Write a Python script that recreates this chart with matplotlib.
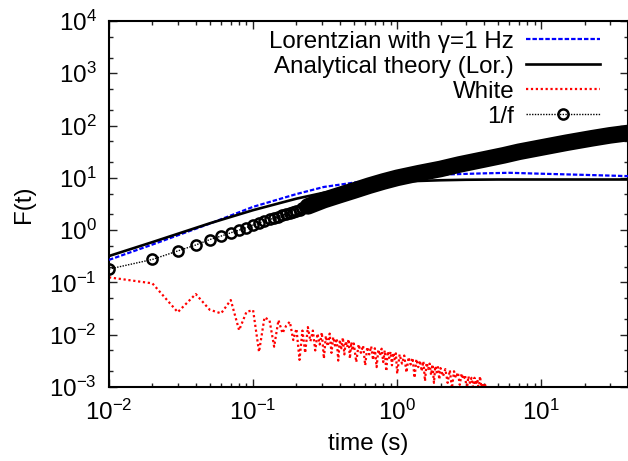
import numpy as np
import matplotlib
matplotlib.use('Agg')
import matplotlib.pyplot as plt
from matplotlib.ticker import LogLocator, NullFormatter

plt.rcParams['font.family'] = ['Liberation Sans', 'DejaVu Sans']
plt.rcParams['mathtext.fontset'] = 'custom'
plt.rcParams['mathtext.rm'] = 'Liberation Sans'
plt.rcParams['mathtext.it'] = 'Liberation Sans:italic'
plt.rcParams['mathtext.default'] = 'regular'

# ---------------- data ----------------
lor_t = [0.01, 0.02, 0.05, 0.1, 0.2, 0.31, 0.5, 0.64, 1.0, 1.42, 2.4, 4.0, 6.0, 10, 20, 40]
lor_F = [0.27, 0.53, 1.33, 2.79, 4.9, 6.7, 8.1, 9.0, 10.0, 11.3, 11.7, 12.2, 12.5, 12.0, 11.4, 10.8]

theory_t = [0.01, 0.02, 0.05, 0.1, 0.2, 0.31, 0.5, 0.64, 1.0, 1.27, 2.0, 3.0, 5.0, 10, 40]
theory_F = [0.32, 0.59, 1.35, 2.41, 4.0, 5.2, 6.5, 7.2, 8.2, 8.65, 9.0, 9.2, 9.3, 9.3, 9.3]

white_t = [0.01, 0.02, 0.03, 0.04, 0.05, 0.06, 0.07, 0.08, 0.09, 0.10,
           0.11, 0.12, 0.13, 0.14, 0.15, 0.16, 0.17, 0.18, 0.19, 0.20,
           0.21, 0.22, 0.23, 0.24, 0.25, 0.26, 0.27, 0.28, 0.29, 0.30,
           0.31, 0.32, 0.33, 0.34, 0.35, 0.36, 0.37, 0.38, 0.39, 0.40,
           0.41, 0.42, 0.43, 0.44, 0.45, 0.46, 0.47, 0.48, 0.49, 0.50,
           0.52, 0.54, 0.56, 0.58, 0.60, 0.62, 0.64, 0.66, 0.68, 0.70,
           0.72, 0.74, 0.76, 0.78, 0.80, 0.82, 0.84, 0.86, 0.88, 0.90,
           0.92, 0.94, 0.96, 0.98, 1.00,
           1.04, 1.08, 1.12, 1.16, 1.20, 1.24, 1.28, 1.32, 1.36, 1.40,
           1.44, 1.48, 1.52, 1.56, 1.60, 1.64, 1.68, 1.72, 1.76, 1.80,
           1.84, 1.88, 1.92, 1.96, 2.00,
           2.08, 2.16, 2.24, 2.32, 2.40, 2.48, 2.56, 2.64, 2.72, 2.80,
           2.88, 2.96, 3.04, 3.12, 3.20, 3.28, 3.36, 3.44, 3.52, 3.60,
           3.68, 3.76, 3.84, 3.92, 4.00, 4.08, 4.16, 4.24]
white_F = [0.125, 0.096, 0.027, 0.060, 0.030, 0.0256, 0.046, 0.0122, 0.0274, 0.0295,
           0.0047, 0.0214, 0.019, 0.0059, 0.019, 0.0107, 0.015, 0.0177, 0.0079, 0.013,
           0.0033, 0.012, 0.0045, 0.014, 0.0075, 0.012, 0.005, 0.0105, 0.0065, 0.011,
           0.0035, 0.0095, 0.006, 0.0105, 0.0045, 0.009, 0.0062, 0.0085, 0.0032, 0.008,
           0.0055, 0.0088, 0.0042, 0.0075, 0.0058, 0.0082, 0.0035, 0.0072, 0.005, 0.0068,
           0.0030, 0.0065, 0.0045, 0.0062, 0.0026, 0.0058, 0.0042, 0.0060, 0.0033, 0.0055,
           0.0024, 0.0052, 0.0040, 0.0054, 0.0030, 0.0050, 0.0020, 0.0048, 0.0036, 0.0047,
           0.0026, 0.0045, 0.0034, 0.0044, 0.0018,
           0.0042, 0.0028, 0.0040, 0.0019, 0.0037, 0.0027, 0.0036, 0.0015, 0.0034, 0.0024,
           0.0032, 0.0020, 0.0031, 0.0013, 0.0029, 0.0022, 0.0028, 0.0017, 0.0027, 0.0012,
           0.0025, 0.0019, 0.0024, 0.0014, 0.0023,
           0.0016, 0.0022, 0.0012, 0.0021, 0.00095, 0.0020, 0.0015, 0.0019, 0.0011, 0.0018,
           0.0014, 0.0017, 0.00085, 0.0016, 0.0012, 0.0015, 0.0010, 0.0015, 0.0011, 0.0014,
           0.0009, 0.0016, 0.0010, 0.0012, 0.0009, 0.0011, 0.0008, 0.0007]

onef_t = [0.01, 0.02, 0.03, 0.04, 0.05, 0.06, 0.07, 0.08, 0.09, 0.10,
          0.11, 0.12, 0.13, 0.14, 0.15, 0.16, 0.17, 0.18, 0.19, 0.20,
          0.21, 0.22, 0.23, 0.24, 0.25]
onef_F = [0.18, 0.275, 0.40, 0.52, 0.66, 0.77, 0.89, 1.0, 1.12, 1.25,
          1.37, 1.48, 1.6, 1.7, 1.82, 1.93, 2.04, 2.15, 2.26, 2.37,
          2.48, 2.6, 2.72, 2.85, 3.0]
# dense part of the 1/f series (markers merge into a band)
onef_band_t = [0.24, 0.31, 0.4, 0.5, 0.64, 0.8, 1.0, 1.42, 2.0, 2.7, 4.0, 5.5, 7.0,
               10, 15, 22.4, 30, 40]
onef_band_F = [2.85, 3.75, 4.7, 5.7, 7.1, 8.5, 10.0, 12.3, 14.8, 18.0, 22.5, 27, 31.5,
               38, 47, 57, 65, 72]

labels = ['Lorentzian with γ=1 Hz', 'Analytical theory (Lor.)', 'White', '1/f']

# ---------------- figure ----------------
W, H = 628, 461
fig = plt.figure(figsize=(W / 100, H / 100), dpi=100)
ax = fig.add_axes([109 / W, (H - 387) / H, 519 / W, 366 / H])

FS = 17.4
ax.plot(lor_t, lor_F, color='#0000ff', lw=1.6, linestyle=(0, (2, 0.9)), label=labels[0], zorder=3)
ax.plot(theory_t, theory_F, color='black', lw=1.9, label=labels[1], zorder=3)
ax.plot(white_t, white_F, color='#ff0000', lw=1.6, linestyle=(0, (1, 1.2)), label=labels[2], zorder=2)
ax.plot(onef_band_t, onef_band_F, color='black', lw=12, solid_capstyle='round', zorder=4)
ax.plot(onef_t, onef_F, color='black', lw=1.0, linestyle=(0, (1, 1)), marker='o',
        markersize=7.3, markerfacecolor='none', markeredgewidth=1.8, markeredgecolor='black',
        label=labels[3], zorder=5)

ax.set_xscale('log')
ax.set_yscale('log')
ax.set_xlim(0.01, 40)
ax.set_ylim(1e-3, 1e4)

ax.xaxis.set_major_locator(LogLocator(base=10, numticks=20))
ax.xaxis.set_minor_locator(LogLocator(base=10, subs=np.arange(2, 10), numticks=20))
ax.yaxis.set_major_locator(LogLocator(base=10, numticks=20))
ax.yaxis.set_minor_locator(LogLocator(base=10, subs=[2, 5], numticks=20))
ax.xaxis.set_minor_formatter(NullFormatter())
ax.yaxis.set_minor_formatter(NullFormatter())

ax.tick_params(which='both', direction='in', top=True, right=True, colors='#222222',
               labelcolor='black', labelsize=FS)
ax.tick_params(which='major', length=5.5, width=1.0, pad=9)
ax.tick_params(which='minor', length=3, width=1.0)
for s in ax.spines.values():
    s.set_linewidth(1.5)

ax.set_xlabel('time (s)', fontsize=FS, labelpad=6)
ax.set_ylabel('F(t)', fontsize=FS, labelpad=10)

leg = ax.legend(loc='upper right', bbox_to_anchor=(0.946, 0.974), frameon=False,
                markerfirst=False, fontsize=FS, handlelength=3.05, handletextpad=0.5,
                labelspacing=0.13, borderpad=0, borderaxespad=0, numpoints=1)

fig.savefig('out.png', dpi=100)
